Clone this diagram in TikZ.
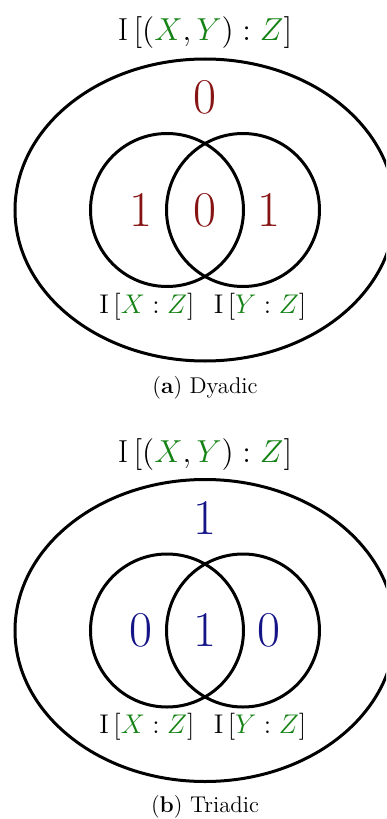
\documentclass[tikz,border=0pt]{standalone}
\usepackage{fix-cm}
\usepackage{fontspec}
\usepackage{xcolor}
\definecolor{vargreen}{RGB}{20,130,20}
\definecolor{dyadred}{RGB}{135,20,20}
\definecolor{triadblue}{RGB}{20,20,135}
\newcommand{\gv}[1]{\textcolor{vargreen}{#1}}

\begin{document}
\begin{tikzpicture}[x=0.5pt, y=0.5pt,
  ring/.style={draw, line width=1.5pt},
  title/.style={font=\fontsize{15.9}{19}\selectfont},
  atom/.style={font=\fontsize{25}{30}\selectfont},
  info/.style={font=\fontsize{13.5}{16}\selectfont},
  capt/.style={font=\fontsize{11.4}{14}\selectfont}]
  \useasboundingbox (-205,210) rectangle (181,-609);
  \clip (-205,210) rectangle (181,-609);

  % (a) dyadic
  \begin{scope}
    \draw[ring] (0,0) ellipse [x radius=190, y radius=151];
    \draw[ring] (-38,0) circle [radius=76.5];
    \draw[ring] (38,0) circle [radius=76.5];
    \node[title] (dxyz) at (0,177) {$\mathrm{I}\,[(\gv{X},\gv{Y}):\gv{Z}]$};
    \node[atom, text=dyadred] (dtop) at (0,113) {$0$};
    \node[atom, text=dyadred] (dx) at (-64,0) {$1$};
    \node[atom, text=dyadred] (dxy) at (0,0) {$0$};
    \node[atom, text=dyadred] (dy) at (64,0) {$1$};
    \node[info] (dxz) at (-58,-97) {$\mathrm{I}\,[\gv{X}:\gv{Z}]$};
    \node[info] (dyz) at (55,-97) {$\mathrm{I}\,[\gv{Y}:\gv{Z}]$};
    \node[capt] (dcap) at (0,-178) {(\textbf{a}) Dyadic};
  \end{scope}

  % (b) triadic
  \begin{scope}[yshift=-420.5*0.5pt]
    \draw[ring] (0,0) ellipse [x radius=190, y radius=151];
    \draw[ring] (-38,0) circle [radius=76.5];
    \draw[ring] (38,0) circle [radius=76.5];
    \node[title] (txyz) at (0,175.5) {$\mathrm{I}\,[(\gv{X},\gv{Y}):\gv{Z}]$};
    \node[atom, text=triadblue] (ttop) at (0,112.5) {$1$};
    \node[atom, text=triadblue] (tx) at (-64,0) {$0$};
    \node[atom, text=triadblue] (txy) at (0,0) {$1$};
    \node[atom, text=triadblue] (ty) at (64,0) {$0$};
    \node[info] (txz) at (-58,-96.5) {$\mathrm{I}\,[\gv{X}:\gv{Z}]$};
    \node[info] (tyz) at (55,-96.5) {$\mathrm{I}\,[\gv{Y}:\gv{Z}]$};
    \node[capt] (tcap) at (0,-176.5) {(\textbf{b}) Triadic};
  \end{scope}
\end{tikzpicture}
\end{document}
